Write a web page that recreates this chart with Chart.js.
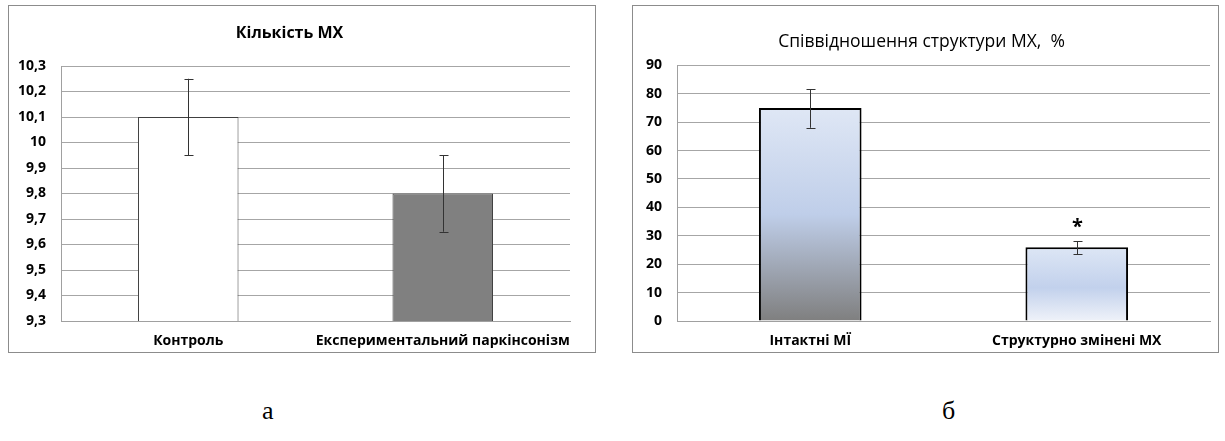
<!DOCTYPE html>
<html>
<head>
<meta charset="utf-8">
<script src="https://cdn.jsdelivr.net/npm/chart.js@4.4.1/dist/chart.umd.min.js"></script>
<style>
  html, body { margin: 0; padding: 0; background: #fff; }
  body { width: 1225px; height: 441px; position: relative; overflow: hidden; }
  .box { position: absolute; border: 1px solid #8c8c8c; background: #fff; box-sizing: border-box; }
  #boxA { left: 8px; top: 5px; width: 588px; height: 348px; }
  #boxB { left: 632px; top: 5px; width: 587px; height: 348px; }
  .box canvas { position: absolute; left: 0; top: 0; }
  .cap { position: absolute; font-family: "Liberation Serif", "DejaVu Serif", serif; font-size: 26px; color: #000; top: 396px; }
</style>
</head>
<body>
<div class="box" id="boxA"><canvas id="chartA" width="586" height="346"></canvas></div>
<div class="box" id="boxB"><canvas id="chartB" width="585" height="346"></canvas></div>
<div class="cap" style="left:262px;">а</div>
<div class="cap" style="left:942px;">б</div>
<script>
// ---- Chart а data ----
const titleA = 'Кількість МХ';
const categoriesA = ['Контроль', 'Експериментальний паркінсонізм'];
const valuesA = [10.1, 9.8];
const errLowA = [9.95, 9.65];
const errHighA = [10.25, 9.95];
const tickLabelsA = ['9,3', '9,4', '9,5', '9,6', '9,7', '9,8', '9,9', '10', '10,1', '10,2', '10,3'];
const tickValuesA = [9.3, 9.4, 9.5, 9.6, 9.7, 9.8, 9.9, 10.0, 10.1, 10.2, 10.3];

// ---- Chart б data ----
const titleB = 'Співвідношення структури МХ,  %';
const categoriesB = ['Інтактні МЇ', 'Структурно змінені МХ'];
const valuesB = [75, 26];
const errLowB = [68, 23.5];
const errHighB = [81.5, 28];
const marksB = ['', '*'];
const tickLabelsB = ['0', '10', '20', '30', '40', '50', '60', '70', '80', '90'];

const FONT = '"Open Sans", Lato, "Liberation Sans", sans-serif';

const errorBarPlugin = {
  id: 'errorBars',
  afterDatasetsDraw(chart, args, opts) {
    const ctx = chart.ctx;
    const meta = chart.getDatasetMeta(0);
    const y = chart.scales.y;
    ctx.save();
    ctx.strokeStyle = opts.color || '#333';
    ctx.lineWidth = 1;
    meta.data.forEach((bar, i) => {
      const x = Math.round(bar.x) + 0.5;
      const yl = y.getPixelForValue(opts.low[i]);
      const yh = y.getPixelForValue(opts.high[i]);
      ctx.beginPath();
      ctx.moveTo(x, yl); ctx.lineTo(x, yh);
      ctx.moveTo(x - 4, Math.round(yl) + 0.5); ctx.lineTo(x + 5, Math.round(yl) + 0.5);
      ctx.moveTo(x - 4, Math.round(yh) + 0.5); ctx.lineTo(x + 5, Math.round(yh) + 0.5);
      ctx.stroke();
      if (opts.marks && opts.marks[i]) {
        ctx.fillStyle = '#000';
        ctx.font = 'bold 20px ' + FONT;
        ctx.textAlign = 'center';
        ctx.textBaseline = 'middle';
        ctx.fillText(opts.marks[i], x, yh - 14);
      }
    });
    ctx.restore();
  }
};

function commonOptions(title, titleFont, titlePadTop, titlePadBottom, yWidth, rightPad) {
  return {
    responsive: false,
    animation: false,
    layout: { padding: { left: 0, right: rightPad, top: 0, bottom: 0 } },
    plugins: {
      legend: { display: false },
      tooltip: { enabled: false },
      title: {
        display: true, text: title, color: '#000',
        font: titleFont,
        padding: { top: titlePadTop, bottom: titlePadBottom }
      }
    },
    scales: {
      x: {
        grid: { display: false, drawTicks: false },
        border: { display: true, color: '#a0a0a0', width: 1 },
        ticks: { color: '#000', font: { family: FONT, size: 14, weight: 'bold', lineHeight: 1.2 }, padding: 12, maxRotation: 0, autoSkip: false },
        afterFit(scale) { scale.height = 31; }
      },
      y: {
        grid: { color: '#a6a6a6', lineWidth: 1, drawTicks: false },
        border: { display: true, color: '#a0a0a0', width: 1 },
        afterFit(scale) { scale.width = yWidth; }
      }
    }
  };
}

// Chart а
const optA = commonOptions(titleA, { family: FONT, size: 16, weight: 'bold', lineHeight: 1.2 }, 17.4, 23.4, 52, 25);
optA.scales.y.min = 9.3;
optA.scales.y.max = 10.3;
optA.scales.y.afterBuildTicks = (scale) => { scale.ticks = tickValuesA.map(v => ({ value: v })); };
optA.scales.y.ticks = {
  color: '#000', font: { family: FONT, size: 14, weight: 'bold' }, padding: 15,
  callback: (v, i) => tickLabelsA[i]
};
optA.plugins.errorBars = { low: errLowA, high: errHighA, color: '#333' };

new Chart(document.getElementById('chartA'), {
  type: 'bar',
  data: {
    labels: categoriesA,
    datasets: [{
      data: valuesA,
      backgroundColor: ['#ffffff', '#808080'],
      borderColor: '#404040',
      borderWidth: 1,
      barPercentage: 0.79,
      categoryPercentage: 0.5
    }]
  },
  options: optA,
  plugins: [errorBarPlugin]
});

// Chart б
function gradB(context) {
  const chart = context.chart;
  const area = chart.chartArea;
  if (!area) return '#c0cfea';
  const y = chart.scales.y;
  const i = context.dataIndex;
  const top = y.getPixelForValue(valuesB[i]);
  const bot = y.getPixelForValue(0);
  const g = chart.ctx.createLinearGradient(0, top, 0, bot);
  if (i === 0) {
    g.addColorStop(0, '#dfe7f5');
    g.addColorStop(0.5, '#bfcee9');
    g.addColorStop(1, '#7f7f7f');
  } else {
    g.addColorStop(0, '#dde6f5');
    g.addColorStop(0.55, '#c2d1ec');
    g.addColorStop(1, '#eff2f9');
  }
  return g;
}

const optB = commonOptions(titleB, { family: FONT, size: 17.5, weight: 'normal', lineHeight: 1.2 }, 25.5, 12.8, 44, 8);
optB.scales.y.min = 0;
optB.scales.y.max = 90;
optB.scales.y.ticks = {
  color: '#000', font: { family: FONT, size: 14, weight: 'bold' }, padding: 15, stepSize: 10,
  callback: (v) => tickLabelsB[Math.round(v / 10)]
};
optB.plugins.errorBars = { low: errLowB, high: errHighB, color: '#333', marks: marksB };

new Chart(document.getElementById('chartB'), {
  type: 'bar',
  data: {
    labels: categoriesB,
    datasets: [{
      data: valuesB,
      backgroundColor: gradB,
      borderColor: '#000',
      borderWidth: 2,
      barPercentage: 0.77,
      categoryPercentage: 0.5
    }]
  },
  options: optB,
  plugins: [errorBarPlugin]
});
</script>
</body>
</html>
